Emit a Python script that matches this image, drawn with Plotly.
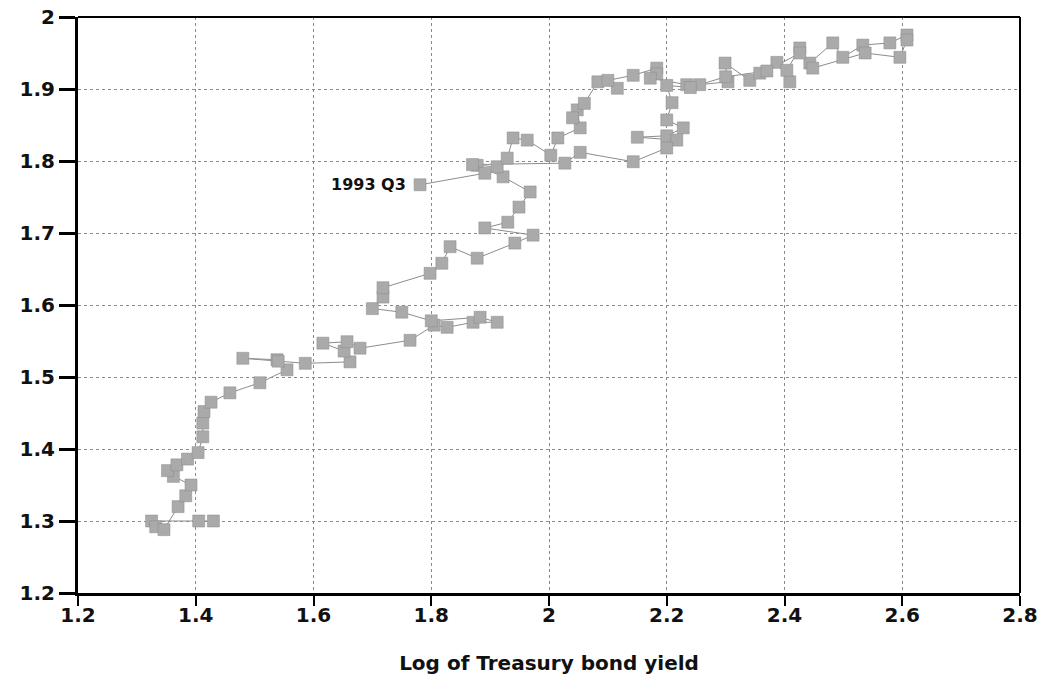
import plotly.graph_objects as go

# Quarterly path (chronological order), log of Treasury bond yield vs y variable
bond_yield_log = [
    1.430, 1.405, 1.325, 1.332, 1.346, 1.370, 1.383, 1.392, 1.362, 1.352,
    1.368, 1.386, 1.404, 1.412, 1.412, 1.414, 1.426, 1.458, 1.509, 1.555,
    1.538, 1.480, 1.540, 1.586, 1.662, 1.652, 1.616, 1.657, 1.679, 1.764,
    1.805, 1.827, 1.871, 1.912, 1.883, 1.800, 1.750, 1.700, 1.718, 1.718,
    1.798, 1.818, 1.832, 1.878, 1.942, 1.973, 1.891, 1.930, 1.949, 1.968,
    1.922, 1.878, 1.912, 1.929, 1.939, 1.963, 2.003, 2.015, 2.053, 2.048,
    2.040, 2.060, 2.083, 2.116, 2.100, 2.143, 2.183, 2.183, 2.172, 2.234,
    2.256, 2.304, 2.299, 2.341, 2.358, 2.387, 2.409, 2.404, 2.426, 2.443,
    2.482, 2.499, 2.533, 2.579, 2.608, 2.608, 2.596, 2.537, 2.448, 2.426,
    2.370, 2.300, 2.240, 2.200, 2.209, 2.200, 2.228, 2.200, 2.150, 2.217,
    2.200, 2.143, 2.053, 2.027, 1.870, 1.891, 1.781,
]
y_values = [
    1.300, 1.300, 1.300, 1.292, 1.288, 1.320, 1.335, 1.350, 1.362, 1.370,
    1.378, 1.386, 1.395, 1.417, 1.436, 1.452, 1.465, 1.478, 1.492, 1.510,
    1.524, 1.526, 1.522, 1.519, 1.521, 1.536, 1.547, 1.549, 1.540, 1.551,
    1.572, 1.569, 1.576, 1.576, 1.583, 1.578, 1.590, 1.595, 1.611, 1.624,
    1.644, 1.658, 1.681, 1.665, 1.686, 1.697, 1.707, 1.715, 1.736, 1.757,
    1.778, 1.794, 1.792, 1.804, 1.832, 1.829, 1.808, 1.832, 1.846, 1.871,
    1.860, 1.880, 1.910, 1.901, 1.912, 1.919, 1.929, 1.921, 1.915, 1.906,
    1.906, 1.910, 1.936, 1.912, 1.922, 1.937, 1.910, 1.926, 1.957, 1.936,
    1.964, 1.944, 1.961, 1.964, 1.975, 1.968, 1.944, 1.950, 1.929, 1.950,
    1.925, 1.917, 1.902, 1.905, 1.881, 1.857, 1.846, 1.835, 1.833, 1.829,
    1.818, 1.799, 1.812, 1.797, 1.795, 1.783, 1.767,
]
label_text = "1993 Q3"
x_ticks = [1.2, 1.4, 1.6, 1.8, 2.0, 2.2, 2.4, 2.6, 2.8]
y_ticks = [1.2, 1.3, 1.4, 1.5, 1.6, 1.7, 1.8, 1.9, 2.0]
x_title = "Log of Treasury bond yield"

FONT = "DejaVu Sans, Liberation Sans, Arial"

fig = go.Figure()
fig.add_trace(go.Scatter(
    x=bond_yield_log, y=y_values, mode="lines+markers",
    line=dict(color="#8c8c8c", width=1),
    marker=dict(symbol="square", size=12, color="#aaaaaa",
                line=dict(color="#8a8a8a", width=0.5)),
    showlegend=False, hoverinfo="skip",
))

fig.add_annotation(
    x=bond_yield_log[-1], y=y_values[-1], text=label_text,
    showarrow=False, xanchor="right", yanchor="middle", xshift=-12,
    font=dict(family=FONT, size=16, color="#111", weight="bold"),
)

# thinner top and right frame lines
fig.add_shape(type="line", xref="paper", yref="paper", x0=0, x1=1, y0=1, y1=1,
              line=dict(color="black", width=2))
fig.add_shape(type="line", xref="paper", yref="paper", x0=1, x1=1, y0=0, y1=1,
              line=dict(color="black", width=2))

axis_font = dict(family=FONT, size=20, color="#111", weight="bold")

fig.update_xaxes(
    range=[1.2, 2.8], tickvals=x_ticks, ticktext=[f"{v:g}" for v in x_ticks],
    showline=True, linecolor="black", linewidth=3,
    ticks="outside", ticklen=10, tickwidth=2, tickcolor="black",
    ticklabelstandoff=-8,
    showgrid=True, gridcolor="#8a8a8a", gridwidth=1, griddash="dot",
    zeroline=False, tickfont=axis_font, automargin=False,
    title=dict(text=x_title, standoff=30,
               font=dict(family=FONT, size=20, color="#111", weight="bold")),
)
fig.update_yaxes(
    range=[1.2, 2.0], tickvals=y_ticks, ticktext=[f"{v:g}" for v in y_ticks],
    showline=True, linecolor="black", linewidth=3,
    ticks="outside", ticklen=16, tickwidth=3, tickcolor="black",
    showgrid=True, gridcolor="#8a8a8a", gridwidth=1, griddash="dot",
    zeroline=False, tickfont=axis_font, automargin=False,
)

fig.update_layout(
    width=1047, height=687,
    margin=dict(l=78, r=27, t=17, b=94, autoexpand=False),
    plot_bgcolor="white", paper_bgcolor="white",
)

fig.write_html(
    "out.html",
    config={"displayModeBar": False},
    post_script="document.body.style.margin='0';document.body.style.overflow='hidden';",
)
